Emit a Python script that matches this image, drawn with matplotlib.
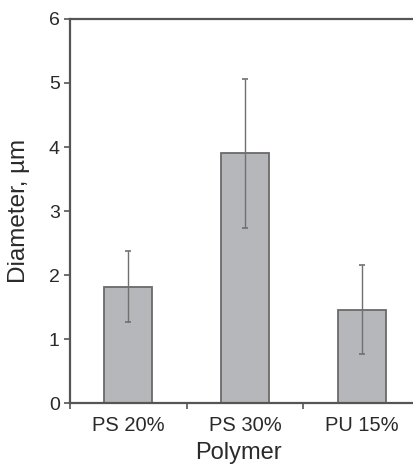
import matplotlib
matplotlib.use("Agg")
import matplotlib.pyplot as plt
import numpy as np

# values
polymers = ["PS 20%", "PS 30%", "PU 15%"]
diameter = [1.82, 3.91, 1.46]
err_low = [1.26, 2.74, 0.76]
err_high = [2.38, 5.06, 2.16]

plt.rcParams['font.family'] = ['Liberation Sans', 'DejaVu Sans']
plt.rcParams['font.size'] = 14
txt = '#2a2a2a'
spine_c = '#555555'

fig = plt.figure(figsize=(4.14, 4.69), dpi=100)
ax = fig.add_axes([0.168, 0.1407, 0.832, 0.8188])

x = np.arange(len(polymers)) + 0.5
d = np.array(diameter)
yerr = [d - np.array(err_low), np.array(err_high) - d]
ax.bar(x, d, width=0.41, color='#b5b7ba', edgecolor='#6a6a6a', linewidth=1.3)
ax.errorbar(x, d, yerr=yerr, fmt='none', ecolor='#707070', elinewidth=1.0,
            capsize=2.5, capthick=1.2)

ax.set_xlim(0, 2.945)
ax.set_ylim(0, 6)
ax.set_yticks(range(7))
ax.set_xticks([0, 1, 2])
ax.set_xticklabels([])
ax.set_xticks(x, minor=True)
ax.set_xticklabels(polymers, minor=True)
ax.tick_params(axis='x', which='minor', length=0, pad=9, colors=txt, labelsize=14.5)
ax.tick_params(axis='x', which='major', length=4, width=1.2, color=spine_c)
ax.tick_params(axis='y', length=4, width=1.2, color=spine_c, labelcolor=txt,
               pad=3, labelsize=14)

for s in ['left', 'bottom', 'top']:
    ax.spines[s].set_color(spine_c)
    ax.spines[s].set_linewidth(1.6)
ax.spines['right'].set_visible(False)

ax.set_ylabel('Diameter, µm', color=txt, fontsize=17.5)
ax.yaxis.set_label_coords(-0.116, 0.5)
ax.set_xlabel('Polymer', color=txt, fontsize=17)
ax.xaxis.set_label_coords(0.5 * 3 / 2.945 - 0.02, -0.102)

fig.savefig('out.png', dpi=100)
